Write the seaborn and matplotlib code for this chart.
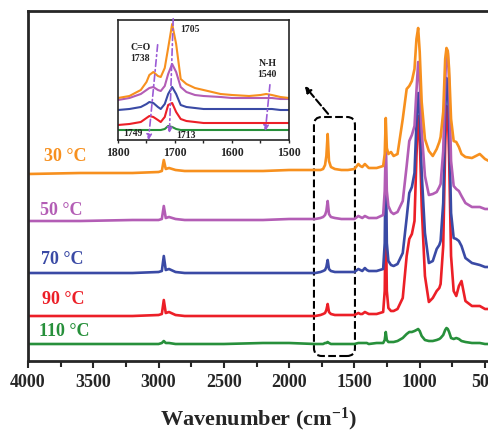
import numpy as np
import pandas as pd
import matplotlib
matplotlib.use("Agg")
import matplotlib.pyplot as plt
import seaborn as sns
from matplotlib.patches import FancyBboxPatch

# ---- data (heights above each trace's baseline) ----
temps = ["30 °C", "50 °C", "70 °C", "90 °C", "110 °C"]
offsets = [187, 140, 88, 45, 17]

wavenumber = [4000, 3600, 3200, 3000, 2975, 2960, 2945, 2920, 2870, 2800,
              2500, 2200, 2000, 1800, 1760, 1740, 1725, 1715, 1705, 1695,
              1680, 1650, 1600, 1550, 1500, 1470, 1455, 1440, 1420, 1405,
              1390, 1330, 1280, 1268, 1260, 1252, 1240, 1220, 1200, 1170,
              1130, 1100, 1080, 1060, 1040, 1025, 1012, 1000, 985, 960,
              930, 900, 870, 850, 840, 820, 805, 795, 785, 775,
              760, 740, 720, 700, 680, 650, 600, 540, 500, 470]

abs_30 = [0, 1, 1, 2, 3, 14, 5, 6, 4, 3,
          3, 3, 4, 4, 4, 5, 9, 18, 40, 13,
          7, 5, 4, 4, 5, 10, 8, 7, 10, 8,
          6, 6, 8, 20, 56, 26, 20, 22, 18, 20,
          55, 85, 88, 93, 105, 135, 146, 122, 72, 35,
          23, 18, 25, 32, 37, 62, 115, 126, 123, 105,
          55, 33, 32, 27, 20, 17, 16, 20, 15, 13]
abs_50 = [0, 0, 1, 1, 2, 15, 3, 4, 2, 1,
          1, 1, 2, 2, 3, 4, 6, 10, 20, 7,
          4, 3, 2, 2, 2, 5, 4, 3, 5, 4,
          3, 3, 6, 30, 75, 30, 15, 9, 7, 9,
          20, 55, 80, 86, 95, 130, 159, 140, 90, 45,
          26, 27, 29, 34, 37, 70, 140, 172, 168, 140,
          60, 35, 32, 30, 25, 18, 14, 14, 12, 12]
abs_70 = [0, 0, 0, 1, 2, 17, 3, 4, 1, 0,
          0, 0, 0, 0, 1, 2, 3, 6, 13, 4,
          2, 1, 1, 1, 1, 4, 3, 2, 5, 3,
          2, 2, 4, 30, 120, 30, 12, 8, 7, 9,
          20, 55, 80, 86, 100, 150, 180, 160, 100, 40,
          10, 12, 24, 28, 32, 70, 160, 195, 190, 150,
          60, 35, 34, 32, 27, 15, 10, 8, 6, 6]
abs_90 = [0, 0, 0, 1, 2, 16, 3, 4, 1, 0,
          0, 0, 0, 0, 1, 2, 3, 6, 12, 4,
          2, 1, 1, 1, 1, 3, 2, 2, 4, 3,
          2, 2, 4, 25, 105, 25, 8, 5, 5, 7,
          18, 60, 77, 82, 95, 160, 200, 180, 110, 40,
          14, 18, 25, 28, 32, 70, 170, 210, 205, 160,
          60, 25, 20, 30, 35, 15, 10, 10, 7, 7]
abs_110 = [0, 0, 0, 0, 1, 3, 1, 1, 0, 0,
           0, 1, 1, 0, 0, 0, 1, 1, 2, 1,
           0, 0, 0, 0, 0, 1, 1, 1, 1, 1,
           0, 1, 1, 4, 12, 4, 2, 2, 2, 3,
           6, 10, 12, 12, 13, 14, 15, 13, 8, 4,
           3, 3, 4, 5, 6, 9, 14, 16, 15, 12,
           6, 5, 6, 5, 3, 2, 1, 1, 0, 0]

# inset: 1800-1500 cm-1 region (already stacked)
inset_wn = [1800, 1780, 1760, 1750, 1745, 1738, 1730, 1725, 1718, 1712,
            1705, 1698, 1690, 1680, 1665, 1650, 1620, 1600, 1570, 1550,
            1540, 1530, 1515, 1500]
inset_30 = [42, 44, 50, 58, 65, 68, 64, 63, 72, 92,
            116, 96, 61, 56, 52, 50, 46, 45, 44, 45, 46, 45, 43, 42]
inset_50 = [40, 42, 46, 50, 52, 53, 50, 49, 54, 66,
            76, 68, 53, 48, 45, 44, 43, 42, 42, 42, 42, 42, 41, 41]
inset_70 = [30, 31, 33, 36, 38, 37, 33, 31, 36, 46,
            53, 46, 35, 33, 32, 31, 31, 31, 31, 31, 31, 31, 30, 30]
inset_90 = [15, 16, 18, 22, 24, 23, 20, 18, 23, 35,
            37, 28, 21, 19, 18, 17, 17, 17, 17, 17, 17, 17, 17, 17]
inset_110 = [10, 10, 10, 10, 10, 10, 10, 10, 11, 14,
             13, 11, 10, 10, 10, 10, 10, 10, 10, 10, 10, 10, 10, 10]

colors = ["#f7901e", "#b35db5", "#3a4aa5", "#ec1f27", "#27903b"]
palette = dict(zip(temps, colors))
draw_order = temps[::-1]  # green first, orange on top

main_rows = []
for t, off, vals in zip(temps, offsets, [abs_30, abs_50, abs_70, abs_90, abs_110]):
    for w, v in zip(wavenumber, vals):
        main_rows.append({"wn": w, "y": v + off, "temp": t})
df = pd.DataFrame(main_rows)

inset_rows = []
for t, vals in zip(temps, [inset_30, inset_50, inset_70, inset_90, inset_110]):
    for w, v in zip(inset_wn, vals):
        inset_rows.append({"wn": w, "y": v, "temp": t})
df_in = pd.DataFrame(inset_rows)

sns.set_style("ticks")
plt.rcParams["font.family"] = ["Liberation Serif", "DejaVu Serif"]
plt.rcParams["font.weight"] = "bold"
plt.rcParams["mathtext.fontset"] = "custom"
plt.rcParams["mathtext.rm"] = "Liberation Serif:bold"
plt.rcParams["mathtext.it"] = "Liberation Serif:bold"
plt.rcParams["mathtext.bf"] = "Liberation Serif:bold"

fig = plt.figure(figsize=(4.89, 4.31), dpi=100)
ax = fig.add_axes([28 / 489, 69 / 431, 461 / 489, 350 / 431])

sns.lineplot(data=df, x="wn", y="y", hue="temp", hue_order=draw_order,
             palette=palette, estimator=None, sort=False, legend=False,
             linewidth=1.9, ax=ax)

ax.set_xlim(4000, 469.4)
ax.set_ylim(0, 350)
ax.set_xticks(np.arange(4000, 499, -500))
ax.set_xticks(np.arange(3750, 600, -500), minor=True)
ax.set_yticks([])
ax.tick_params(axis="x", which="major", direction="out", length=5, width=1.5,
               labelsize=13, pad=4)
ax.tick_params(axis="x", which="minor", direction="out", length=4, width=1.5)
for s in ["left", "bottom", "top"]:
    ax.spines[s].set_linewidth(2)
ax.spines["right"].set_visible(False)
ax.set_xlabel("Wavenumber (cm$^{-1}$)", fontsize=16, fontweight="bold", labelpad=10)
ax.set_ylabel("")

# temperature labels
label_pos = [(3880, 205), (3908, 151), (3900, 102), (3893, 62), (3916, 30)]
for t, c, (lx, ly) in zip(temps, colors, label_pos):
    ax.text(lx, ly, t, color=c, fontsize=13, fontweight="bold", ha="left", va="center")

# dashed box around the carbonyl region + arrow to the inset
box = FancyBboxPatch((1496, 5), 314, 239, boxstyle="round,pad=0,rounding_size=61",
                     mutation_aspect=0.1306, fill=False, ls="--", lw=1.5, ec="k")
ax.add_patch(box)
ax.annotate("", xy=(1894, 277), xytext=(1688, 245),
            arrowprops=dict(arrowstyle="-|>", linestyle="--", lw=1.5, color="k",
                            mutation_scale=9))

# ---- inset ----
axin = fig.add_axes([118 / 489, (431 - 141) / 431, 171 / 489, 120 / 431])
axin.set_facecolor("white")
sns.lineplot(data=df_in, x="wn", y="y", hue="temp", hue_order=draw_order,
             palette=palette, estimator=None, sort=False, legend=False,
             linewidth=1.5, ax=axin)
axin.set_xlim(1800, 1500)
axin.set_ylim(0, 120)
axin.set_xticks([1800, 1700, 1600, 1500])
axin.set_xticks([1750, 1650, 1550], minor=True)
axin.set_yticks([])
axin.set_xlabel("")
axin.set_ylabel("")
axin.tick_params(axis="x", which="both", direction="out", length=2.5, width=1,
                 labelsize=8.5, pad=1.5)
for s in axin.spines.values():
    s.set_linewidth(1.2)

arrow_col = "#9a5bd6"
arrow_kw = dict(arrowstyle="-|>", linestyle=(0, (4, 2, 1, 2)), lw=1.2,
                color=arrow_col, mutation_scale=8)
axin.annotate("", xy=(1710, 4), xytext=(1703, 124), arrowprops=arrow_kw,
              annotation_clip=False)
axin.annotate("", xy=(1747, -3), xytext=(1730, 98), arrowprops=arrow_kw,
              annotation_clip=False)
axin.annotate("", xy=(1542, 6), xytext=(1533, 58), arrowprops=arrow_kw,
              annotation_clip=False)

tkw = dict(fontsize=7, fontweight="bold", color="#222222")
axin.text(1691, 111, "1705", ha="left", va="center", **tkw)
axin.text(1761, 88, "C=O\n1738", ha="center", va="center", linespacing=1.2, **tkw)
axin.text(1538, 72, "N-H\n1540", ha="center", va="center", linespacing=1.2, **tkw)
axin.text(1773, 7, "1749", ha="center", va="center", **tkw)
axin.text(1680, 5, "1713", ha="center", va="center", **tkw)

fig.savefig("out.png", dpi=100)
